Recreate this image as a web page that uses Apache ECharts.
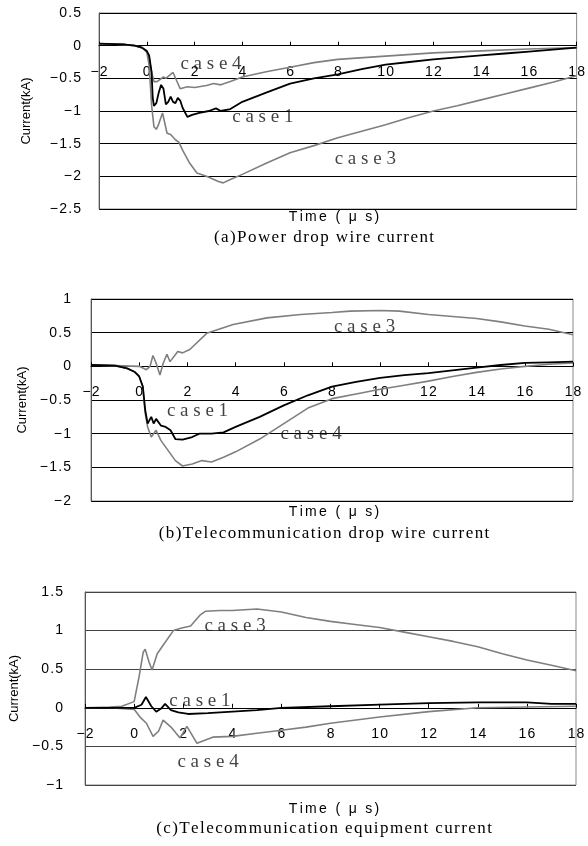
<!DOCTYPE html>
<html><head><meta charset="utf-8">
<script src="https://cdn.jsdelivr.net/npm/echarts@6/dist/echarts.min.js"></script>
<style>html,body{margin:0;padding:0;background:#fff}#c{width:588px;height:846px}</style>
</head><body><div id="c"></div>
<script>
// ---------- data (time in µs, current in kA) ----------
// (a) Power drop wire current
const a_case1_t = [-2,-1,-0.5,-0.2,0,0.1,0.2,0.25,0.3,0.4,0.5,0.6,0.7,0.8,0.9,1.0,1.1,1.2,1.3,1.4,1.5,1.7,1.9,2.2,2.6,2.9,3.1,3.5,4,5,6,7,8,9,10,11,12,13,14,15,16,17,18];
const a_case1_i = [0.03,0.02,0,-0.03,-0.08,-0.15,-0.4,-0.8,-0.92,-0.88,-0.72,-0.6,-0.66,-0.9,-0.86,-0.78,-0.86,-0.88,-0.8,-0.84,-0.95,-1.09,-1.06,-1.03,-1.0,-0.96,-1.0,-0.97,-0.86,-0.72,-0.58,-0.5,-0.44,-0.36,-0.29,-0.25,-0.21,-0.18,-0.15,-0.12,-0.09,-0.06,-0.03];
const a_case3_t = [-2,-1,-0.5,-0.2,0,0.1,0.2,0.3,0.4,0.5,0.66,0.85,1.0,1.2,1.35,1.5,1.8,2.1,2.5,3.0,3.2,3.5,4,5,6,7,8,9,10,11,12,13,14,15,16,17,18];
const a_case3_i = [0.03,0.02,0,-0.03,-0.1,-0.3,-0.9,-1.24,-1.28,-1.2,-1.03,-1.34,-1.36,-1.44,-1.48,-1.6,-1.8,-1.95,-2.0,-2.08,-2.1,-2.05,-1.97,-1.8,-1.64,-1.53,-1.41,-1.31,-1.21,-1.1,-1.0,-0.92,-0.83,-0.74,-0.65,-0.56,-0.46];
const a_case4_t = [-2,-1,-0.5,-0.2,0,0.1,0.2,0.3,0.43,0.7,0.8,1.1,1.4,1.7,2.0,2.5,2.8,3.1,3.5,4,5,6,7,8,10,12,14,16,18];
const a_case4_i = [0.03,0.02,0,-0.03,-0.08,-0.2,-0.4,-0.55,-0.55,-0.48,-0.5,-0.41,-0.66,-0.63,-0.64,-0.61,-0.58,-0.6,-0.55,-0.48,-0.4,-0.33,-0.26,-0.21,-0.16,-0.11,-0.08,-0.05,-0.03];

// (b) Telecommunication drop wire current
const b_case1_t = [-2,-1,-0.5,-0.2,0,0.15,0.25,0.35,0.5,0.6,0.7,0.9,1.1,1.3,1.5,1.8,2.2,2.5,3,3.5,4,5,6,7,8,9,10,11,12,13,14,15,16,17,18];
const b_case1_i = [0.02,0.01,-0.03,-0.08,-0.15,-0.3,-0.65,-0.85,-0.75,-0.85,-0.78,-0.88,-0.9,-0.95,-1.08,-1.09,-1.05,-1.0,-1.0,-0.98,-0.9,-0.75,-0.58,-0.43,-0.3,-0.23,-0.17,-0.13,-0.1,-0.06,-0.02,0.02,0.05,0.06,0.07];
const b_case3_t = [-2,-1,0,0.3,0.45,0.57,0.7,0.86,1.0,1.15,1.28,1.6,1.8,2.1,2.8,3.9,5.3,6.7,8,8.75,10,10.8,12,13,14,15,16,17,18];
const b_case3_i = [0.02,0.01,0,-0.05,0.0,0.16,0.05,-0.13,0.05,0.18,0.07,0.22,0.2,0.25,0.49,0.62,0.72,0.77,0.8,0.82,0.83,0.82,0.77,0.74,0.71,0.66,0.6,0.55,0.47];
const b_case4_t = [-2,-1,-0.5,-0.2,0,0.15,0.25,0.35,0.5,0.7,0.9,1.1,1.3,1.5,1.8,2.2,2.6,3,3.5,4,5,6,7,8,9,10,11,12,13,14,15,16,17,18];
const b_case4_i = [0.02,0.01,-0.03,-0.08,-0.15,-0.3,-0.7,-0.9,-1.05,-0.95,-1.1,-1.2,-1.3,-1.4,-1.48,-1.45,-1.4,-1.42,-1.35,-1.27,-1.08,-0.85,-0.62,-0.48,-0.41,-0.34,-0.28,-0.22,-0.15,-0.09,-0.04,0.0,0.03,0.05];

// (c) Telecommunication equipment current
const c_case1_t = [-2,-1,0,0.3,0.48,0.7,0.9,1.1,1.26,1.5,1.8,2.2,3,4,5,6,8,10,12,14,16,17,18];
const c_case1_i = [0,0,0,0.04,0.14,0.02,-0.05,-0.01,0.05,-0.03,-0.06,-0.08,-0.07,-0.05,-0.03,0.0,0.02,0.04,0.06,0.07,0.07,0.05,0.05];
const c_case3_t = [-2,-1,-0.5,0,0.2,0.37,0.45,0.6,0.73,0.94,1.2,1.6,1.9,2.3,2.68,2.9,3.5,4,5,6,7,8,9,10,11,12,13,14,15,16,17,18];
const c_case3_i = [0,0.01,0.02,0.08,0.4,0.72,0.76,0.6,0.49,0.7,0.82,1.0,1.03,1.06,1.2,1.25,1.26,1.26,1.28,1.24,1.17,1.12,1.08,1.04,0.98,0.92,0.86,0.79,0.7,0.62,0.55,0.48];
const c_case4_t = [-2,-1,0,0.24,0.5,0.77,1.0,1.18,1.5,1.87,2.15,2.56,3.2,4,5,6,7,8,10,12,14,16,18];
const c_case4_i = [0,0,-0.02,-0.12,-0.2,-0.37,-0.3,-0.16,-0.25,-0.39,-0.24,-0.46,-0.38,-0.37,-0.33,-0.29,-0.25,-0.2,-0.12,-0.05,0.0,0.01,0.02];

// axis ranges [min, max, interval]
const xRange = [-2, 18, 2];
const yRangeA = [-2.5, 0.5, 0.5];
const yRangeB = [-2, 1, 0.5];
const yRangeC = [-1, 1.5, 0.5];

// curve label anchors [time, current]
const labelNames = ['case1','case3','case4'];
const a_labelPos = [[4.86,-1.09],[9.15,-1.73],[2.69,-0.28]];
const b_labelPos = [[2.42,-0.66],[9.35,0.58],[7.13,-1.01]];
const c_labelPos = [[2.68,0.09],[4.11,1.06],[3.01,-0.70]];

// texts
const yName = 'Current(kA)';
const xName = 'Time ( \u03bc s)';
const captions = ['(a)Power drop wire current','(b)Telecommunication drop wire current','(c)Telecommunication equipment current'];

// ---------- chart ----------
const SANS = '"Liberation Sans", Arial, sans-serif';
const SERIF = '"Liberation Serif", "Times New Roman", serif';
const hs = s => s.split('').join('\u200a');
const ss = s => s.split('').join('\u2006');
const zip = (t, v) => t.map((x, k) => [x, v[k]]);
const minus = v => hs(v < 0 ? '\u2212' + Math.abs(v) : String(v));

const grids = [
  {left:99, top:13, width:478, height:196},
  {left:91, top:299, width:482, height:202},
  {left:85, top:592, width:491, height:193}
].map(g => Object.assign(g, {show:true, borderColor:'#8a8a8a', borderWidth:1, backgroundColor:'#fff'}));

const yRanges = [yRangeA, yRangeB, yRangeC];
const yMargins = [18, 20, 22];
const yGaps = [66, 58, 52];
const gridColors = ['#000', '#000', '#444'];

// the time axis line sits at current = 0 (raised from the bottom of each plot)
const xAxes = [0,1,2].map(k => ({
  gridIndex:k, type:'value', min:xRange[0], max:xRange[1], interval:xRange[2],
  offset: -grids[k].height * (0 - yRanges[k][0]) / (yRanges[k][1] - yRanges[k][0]),
  axisLine:{onZero:false, lineStyle:{color:'#000', width:1}},
  axisTick:{show:true, inside:true, length:4, lineStyle:{color:'#000'}},
  axisLabel:{margin:19, fontFamily:SANS, fontSize:14, color:'#000', showMinLabel:true, showMaxLabel:true, formatter:minus},
  splitLine:{show:false}
}));
const yAxes = [0,1,2].map(k => ({
  gridIndex:k, type:'value', min:yRanges[k][0], max:yRanges[k][1], interval:yRanges[k][2],
  name:yName, nameLocation:'middle', nameGap:yGaps[k], nameRotate:90,
  nameTextStyle:{fontFamily:SANS, fontSize:13, color:'#000'},
  axisLine:{show:true, onZero:false, lineStyle:{color:'#555'}},
  axisTick:{show:false},
  axisLabel:{margin:yMargins[k], fontFamily:SANS, fontSize:14, color:'#000', formatter:minus, showMinLabel:true, showMaxLabel:true},
  splitLine:{show:true, lineStyle:{color:gridColors[k], width:1}}
}));

const panelData = [
  {c1:[a_case1_t,a_case1_i], c3:[a_case3_t,a_case3_i], c4:[a_case4_t,a_case4_i], lp:a_labelPos},
  {c1:[b_case1_t,b_case1_i], c3:[b_case3_t,b_case3_i], c4:[b_case4_t,b_case4_i], lp:b_labelPos},
  {c1:[c_case1_t,c_case1_i], c3:[c_case3_t,c_case3_i], c4:[c_case4_t,c_case4_i], lp:c_labelPos}
];

const series = [];
panelData.forEach((p, k) => {
  const line = (name, d, color, w, z) => ({
    name, type:'line', xAxisIndex:k, yAxisIndex:k, data:zip(d[0], d[1]),
    showSymbol:false, symbol:'none', smooth:false, animation:false, z,
    lineStyle:{color, width:w}
  });
  series.push(line('case3', p.c3, '#7f7f7f', 1.6, 2));
  series.push(line('case4', p.c4, '#7f7f7f', 1.6, 2));
  series.push(line('case1', p.c1, '#000', 1.8, 3));
  series.push({
    type:'scatter', xAxisIndex:k, yAxisIndex:k, symbolSize:0, silent:true, animation:false, z:5,
    data:p.lp.map((pt, j) => ({name:labelNames[j], value:pt})),
    label:{show:true, position:'inside', formatter:q => q.name.split('').join(' '),
      fontFamily:SERIF, fontSize:19, color:'#111'}
  });
});

const xNameY = [217, 512, 809];
const capY = [238, 534, 829];
const graphic = [];
[0,1,2].forEach(k => {
  graphic.push({type:'text', x:334, y:xNameY[k],
    style:{text:ss(xName), fontFamily:SANS, fontSize:14, fill:'#000', align:'center', verticalAlign:'middle'}});
  graphic.push({type:'text', x:324, y:capY[k],
    style:{text:hs(captions[k]), fontFamily:SERIF, fontSize:17, fill:'#000', align:'center', verticalAlign:'middle'}});
});

const chart = echarts.init(document.getElementById('c'), null, {renderer:'canvas'});
chart.setOption({
  animation:false, backgroundColor:'#fff',
  grid:grids, xAxis:xAxes, yAxis:yAxes, series, graphic
});
</script></body></html>
